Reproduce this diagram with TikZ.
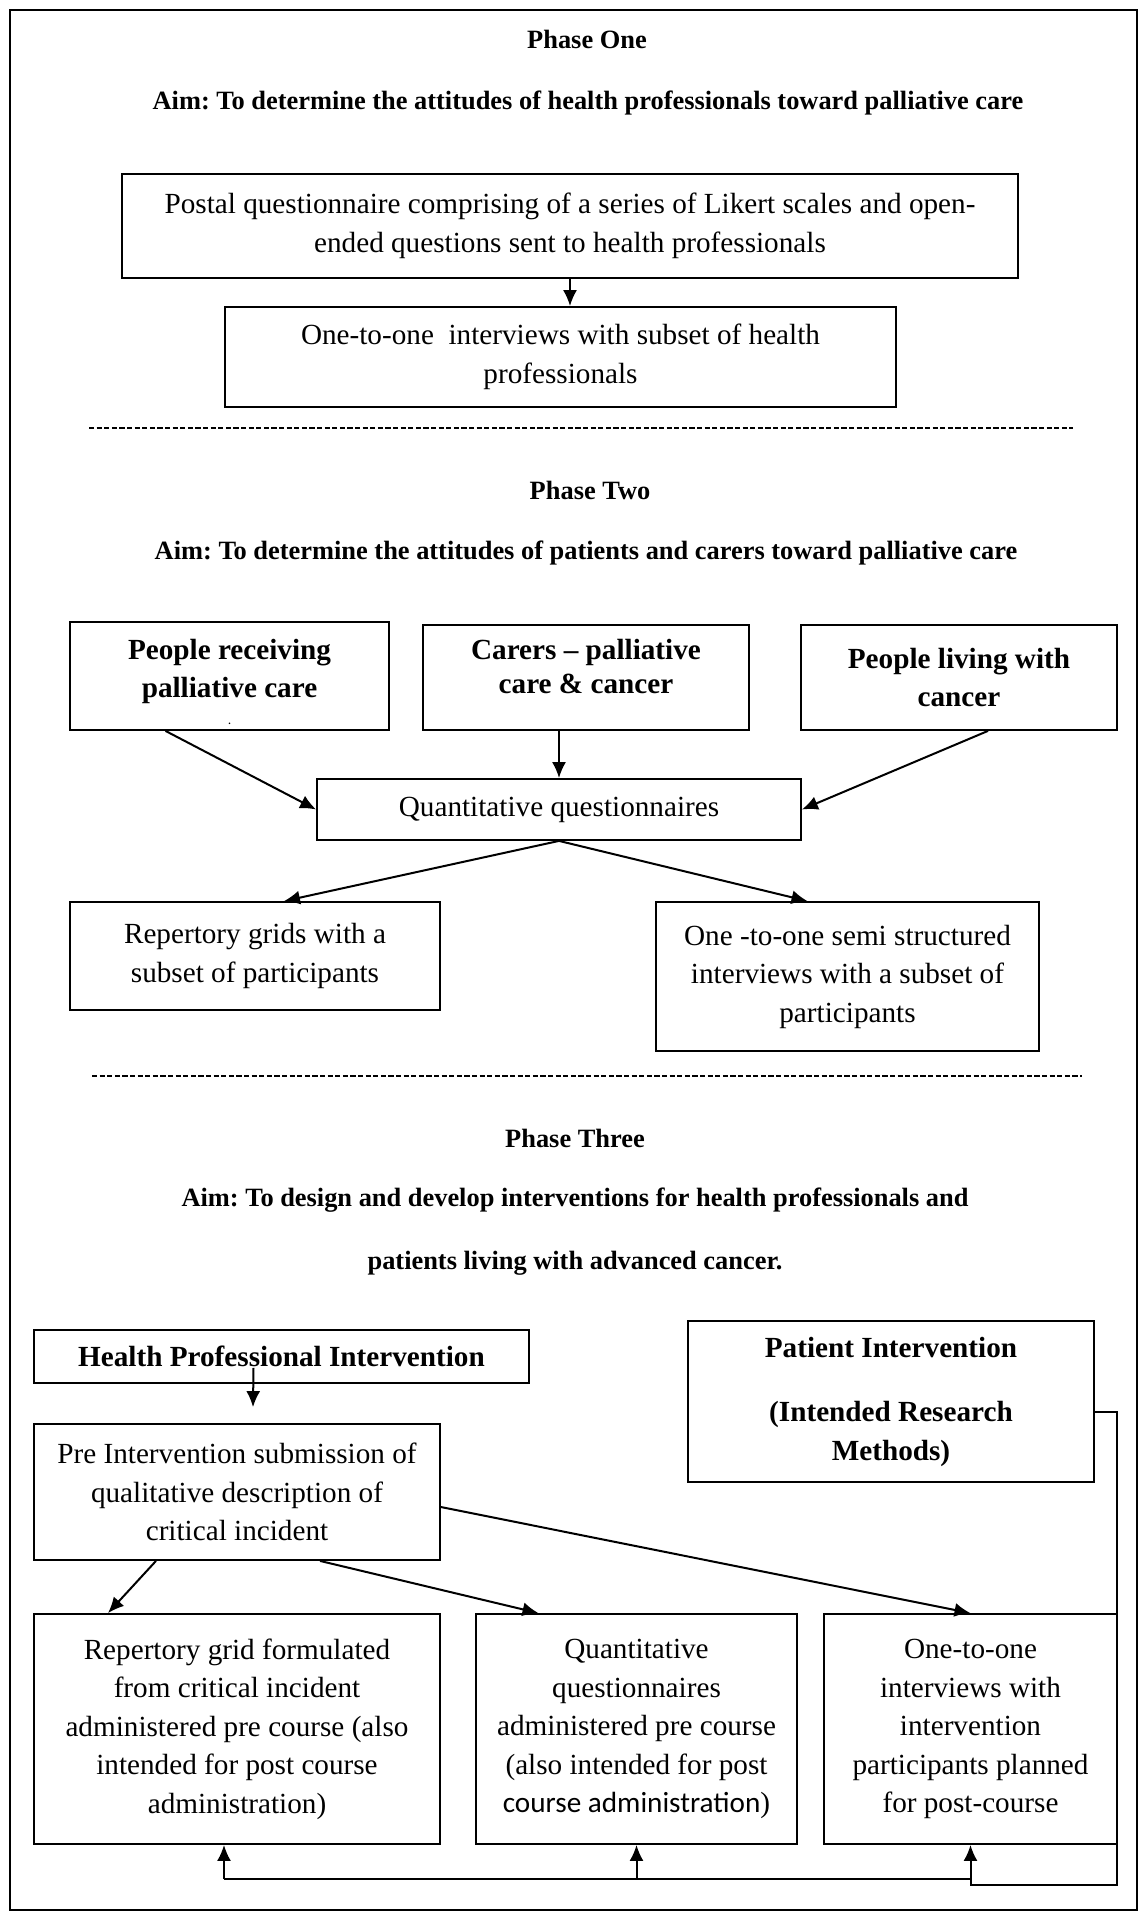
\documentclass[tikz,border=0pt]{standalone}
\usepackage{fontspec}
\setmainfont{Liberation Serif}
\newfontfamily\calibri{Carlito}
\usetikzlibrary{arrows.meta}
\frenchspacing
\begin{document}
\begin{tikzpicture}[x=0.5pt, y=-0.5pt,
  wh/.style 2 args={minimum width=#1*0.5pt, minimum height=#2*0.5pt},
  box/.style={draw, line width=0.9pt, align=center, inner sep=0pt, font=\fontsize{14.6}{19.25}\selectfont},
  boxb/.style={box, font=\fontsize{14.6}{19.25}\selectfont\bfseries},
  head/.style={align=center, font=\fontsize{13.2}{16}\selectfont\bfseries},
  arr/.style={line width=1pt, -{Latex[length=8pt, width=7pt]}},
  rule/.style={line width=0.9pt, dash pattern=on 2.6pt off 1.2pt}]
\useasboundingbox (0, 0) rectangle (1143, 1917);
\draw [line width=0.75pt] (10, 10) rectangle (1137, 1910);
\node[head] (ph1) at (587, 39) {Phase One};
\node[head] (aim1) at (588, 103) {Aim: To determine the attitudes of health professionals toward palliative care};
\node[box, wh={896}{104}] (postal) at (570, 226) {Postal questionnaire comprising of a series of Likert scales and open-\\ended questions sent to health professionals};
\node[box, wh={671}{100}] (oneone) at (560.5, 357) {One-to-one~ interviews with subset of health\\professionals};
\draw [arr] (postal.south) -- (postal.south |- oneone.north);
\draw [rule] (89, 428) -- (1073, 428);
\node[head] (ph2) at (590, 490) {Phase Two};
\node[head] (aim2) at (586, 553) {Aim: To determine the attitudes of patients and carers toward palliative care};
\node[boxb, wh={319}{108}] (recv) at (229.5, 676) {\rule{0pt}{16pt}People receiving\\palliative care\\[-6pt]{\tiny .}};
\node[boxb, wh={326}{105}] (carers) at (586, 677.5) {Carers – palliative\\[-2.5pt]care \& cancer\\[-8pt]\mbox{}};
\node[boxb, wh={316}{105}] (living) at (959, 677.5) {People living with\\cancer};
\node[box, wh={484}{61}] (quant) at (559, 809.5) {Quantitative questionnaires};
\draw [arr] ([xshift=-32pt]recv.south) -- (quant.west);
\draw [arr] (quant.north |- carers.south) -- (quant.north);
\draw [arr] ([xshift=14.5pt]living.south) -- (quant.east);
\node[box, wh={370}{108}] (grids) at (255, 956) {Repertory grids with a\\subset of participants};
\node[box, wh={383}{149}] (semi) at (847.5, 976.5) {One -to-one semi structured\\interviews with a subset of\\participants};
\draw [arr] (quant.south) -- ([xshift=14.5pt]grids.north);
\draw [arr] (quant.south) -- ([xshift=-20pt]semi.north);
\draw [rule] (92, 1076) -- (1082, 1076);
\node[head] (ph3) at (575, 1138) {Phase Three};
\node[head] (aim3) at (575, 1200) {Aim: To design and develop interventions for health professionals and};
\node[head] (aim3b) at (575, 1263) {patients living with advanced cancer.};
\node[boxb, wh={495}{53}] (hpi) at (281.5, 1356.5) {Health Professional Intervention};
\node[boxb, wh={406}{161}] (pati) at (891, 1401.5) {Patient Intervention\\[13pt](Intended Research\\Methods)};
\node[box, wh={406}{136}] (pre) at (237, 1492) {Pre Intervention submission of\\qualitative description of\\critical incident};
\draw [arr] ([xshift=-14pt, yshift=8pt]hpi.south) -- ([xshift=8pt, yshift=8pt]pre.north);
\node[box, wh={406}{230}] (grid) at (237, 1729) {Repertory grid formulated\\from critical incident\\administered pre course (also\\intended for post course\\administration)};
\node[box, wh={321}{230}] (quest) at (636.5, 1729) {Quantitative\\questionnaires\\administered pre course\\(also intended for post\\{\calibri course administration})};
\node[box, wh={293}{230}] (intv) at (970.5, 1729) {One-to-one\\interviews with\\intervention\\participants planned\\for post-course};
\draw [arr] ([xshift=-40.5pt]pre.south) -- ([xshift=-64.5pt]grid.north);
\draw [arr] ([xshift=41.5pt]pre.south) -- ([xshift=-49pt]quest.north);
\draw [arr] ([yshift=-7.5pt]pre.east) -- (intv.north);
\coordinate (lp) at (1117, 1885);
\coordinate (bus) at (224, 1879);
\draw [arr] ([yshift=-5pt]pati.east) -| (lp) -| (intv.south);
\draw [line width=1pt] (bus) -- (intv.south |- bus);
\draw [arr] (bus) -- (bus |- grid.south);
\draw [arr] (quest.south |- bus) -- (quest.south);
\end{tikzpicture}
\end{document}
